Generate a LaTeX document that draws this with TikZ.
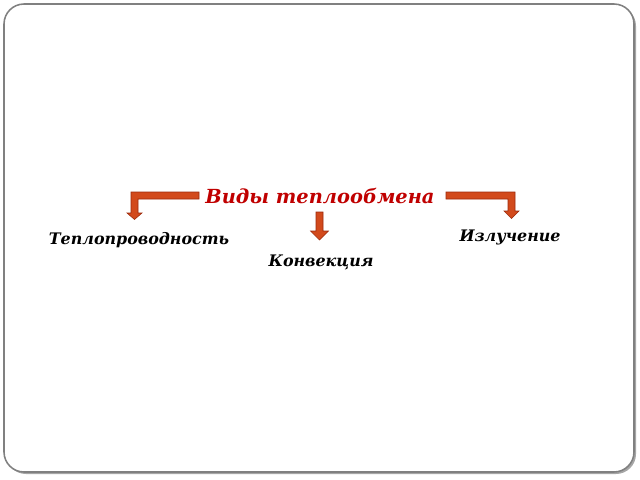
\documentclass[tikz,border=0pt]{standalone}
\usepackage{fontspec}
\setmainfont{DejaVu Serif}
\usetikzlibrary{positioning}
\definecolor{titlered}{HTML}{C00000}
\definecolor{arrowfill}{HTML}{D24A1C}
\definecolor{arrowline}{HTML}{9C2A0C}
\tikzset{
  kind/.style={font=\fontsize{11.3}{13}\selectfont\bfseries\itshape, text=black, inner sep=0pt},
  blockarrow/.style={fill=arrowfill, draw=arrowline, line width=0.4pt, line join=miter}
}
\begin{document}
\begin{tikzpicture}[x=0.025cm, y=-0.025cm]
\useasboundingbox (0,0) rectangle (640,480);
% рамка слайда
\fill[gray!70, rounded corners=0.5cm] (6,6) rectangle (636,474);
\draw[gray, line width=1.1pt, fill=white, rounded corners=0.5cm] (4,4) rectangle (634,472);

% заголовок
\node[font=\fontsize{13.8}{16}\selectfont\bfseries\itshape, text=titlered, inner sep=0pt] (title) at (320,196) {Виды теплообмена};

% виды
\node[kind] (cond) at (139,240) {Теплопроводность};
\node[kind] (conv) at (321,262) {Конвекция};
\node[kind] (rad) at (510,237) {Излучение};

% стрелки
\draw[blockarrow] (199,192) -- (131,192) -- (131,213) -- (127,213) -- (134.5,219.5)
  -- (142,213) -- (138,213) -- (138,199) -- (199,199) -- cycle;
\draw[blockarrow] (316,212) -- (323,212) -- (323,231) -- (328.5,231) -- (319.5,240)
  -- (310.5,231) -- (316,231) -- cycle;
\draw[blockarrow] (446,192) -- (515,192) -- (515,211) -- (519,211) -- (511.5,218.5)
  -- (504,211) -- (508,211) -- (508,199) -- (446,199) -- cycle;
\end{tikzpicture}
\end{document}
